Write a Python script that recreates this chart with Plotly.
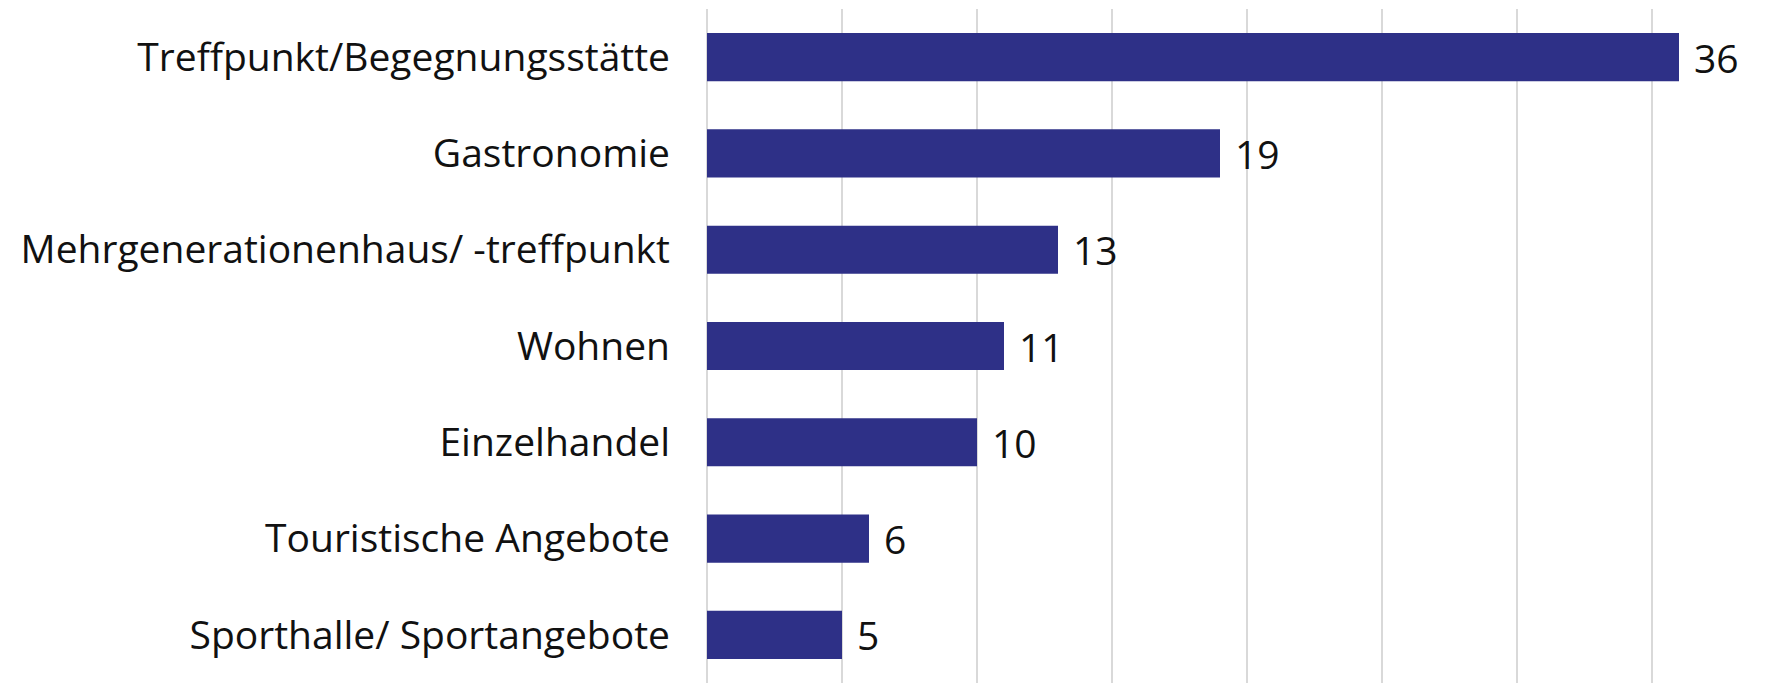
import plotly.graph_objects as go

# Categories listed top to bottom, with their counts
categories = [
    "Treffpunkt/Begegnungsstätte",
    "Gastronomie",
    "Mehrgenerationenhaus/ -treffpunkt",
    "Wohnen",
    "Einzelhandel",
    "Touristische Angebote",
    "Sporthalle/ Sportangebote",
]
counts = [36, 19, 13, 11, 10, 6, 5]

BAR_COLOR = "#2E3087"
FONT = "Open Sans"
FONT_SIZE = 39

fig = go.Figure(
    go.Bar(
        x=counts,
        y=categories,
        orientation="h",
        marker=dict(color=BAR_COLOR, line=dict(width=0)),
        hoverinfo="skip",
    )
)

# value labels to the right of each bar
for cat, val in zip(categories, counts):
    fig.add_annotation(
        x=val, y=cat, text=str(val), showarrow=False,
        xanchor="left", yanchor="middle", xshift=13,
        font=dict(family=FONT, size=FONT_SIZE, color="#111111"),
    )

fig.update_layout(
    width=1787,
    height=683,
    margin=dict(l=707, r=0, t=9, b=0),
    paper_bgcolor="white",
    plot_bgcolor="white",
    bargap=0.5,
    showlegend=False,
    font=dict(family=FONT, size=FONT_SIZE, color="#111111"),
)
fig.update_xaxes(
    range=[0, 40],
    dtick=5,
    showgrid=True,
    gridcolor="#D9D9D9",
    gridwidth=2,
    zeroline=True,
    zerolinecolor="#D9D9D9",
    zerolinewidth=2,
    showticklabels=False,
    showline=False,
)
fig.update_yaxes(
    categoryorder="array",
    categoryarray=categories[::-1],
    showgrid=False,
    showline=False,
    ticks="",
    ticklabelstandoff=36,
    tickfont=dict(family=FONT, size=FONT_SIZE, color="#111111"),
)

fig.write_html("out.html")
